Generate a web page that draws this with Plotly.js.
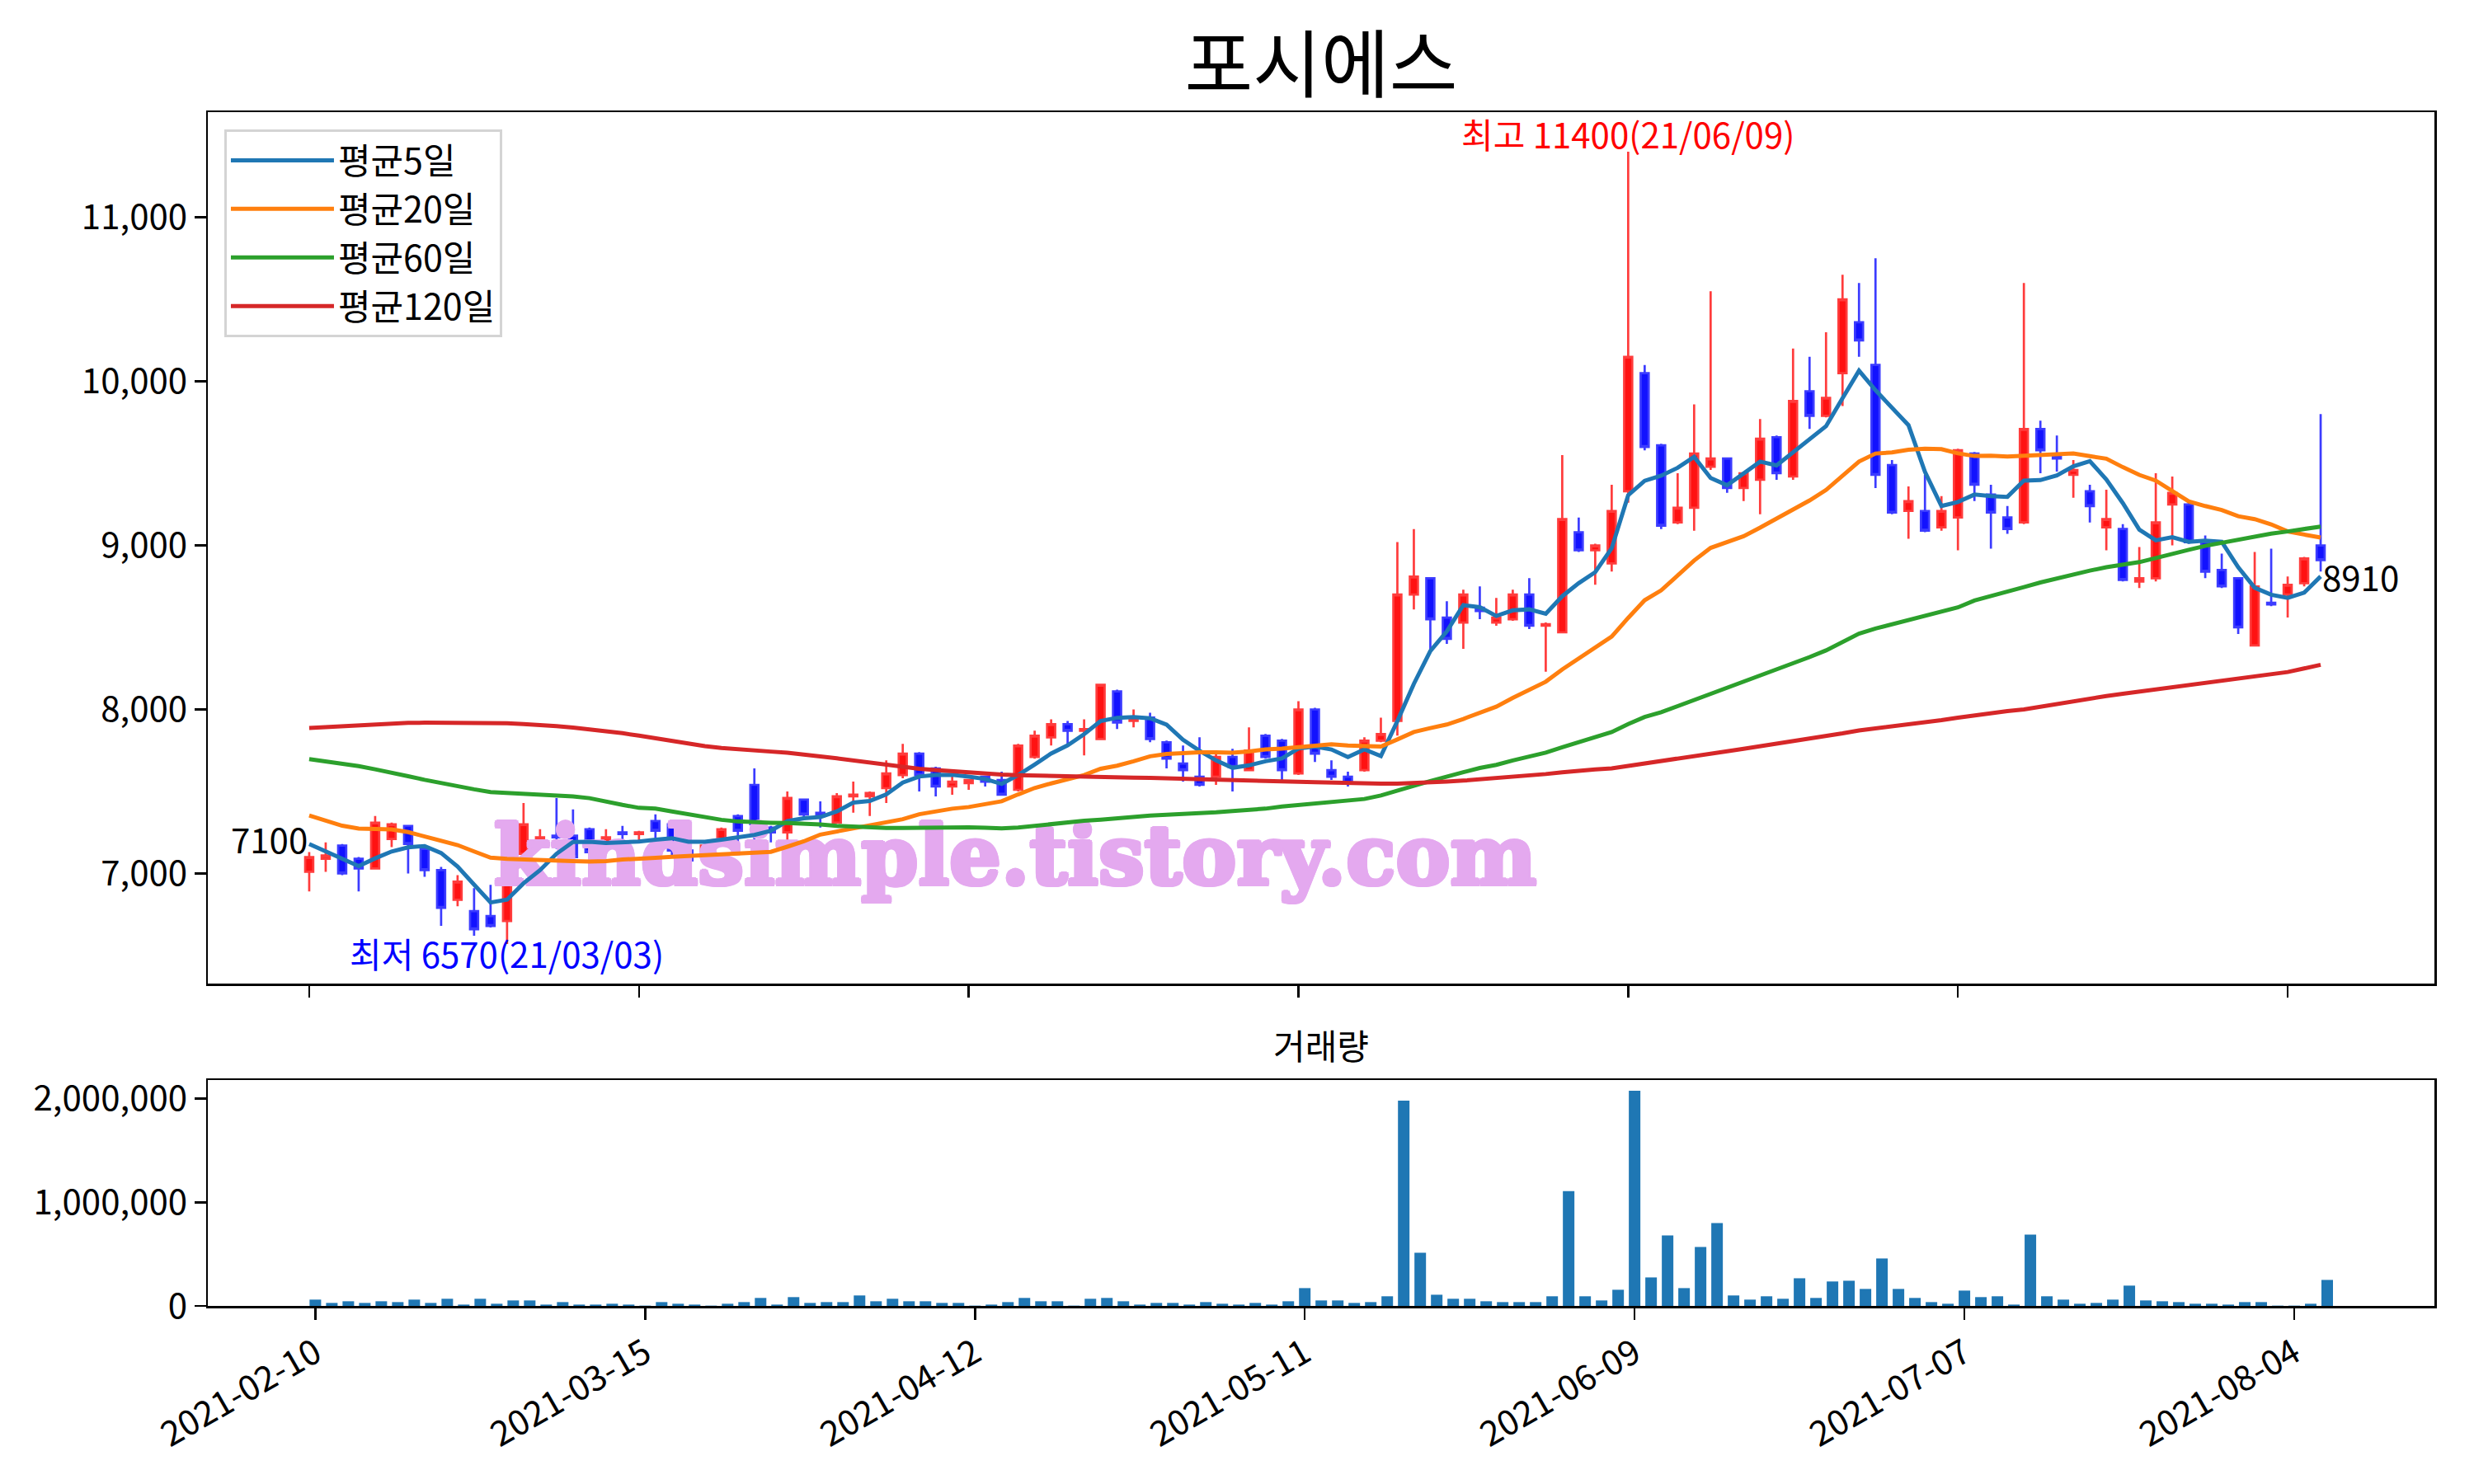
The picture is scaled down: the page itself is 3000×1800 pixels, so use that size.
<!DOCTYPE html>
<html><head><meta charset="utf-8">
<script src="https://cdn.plot.ly/plotly-3.0.1.min.js"></script>
<style>html,body{margin:0;padding:0;background:#fff}#chart{width:3000px;height:1800px}</style>
</head><body><div id="chart"></div>
<script>
const stockName = '포시에스';
const volumeTitle = '거래량';
const watermark = 'kindsimple.tistory.com';
const maNames = ['평균5일', '평균20일', '평균60일', '평균120일'];

const dates = [
'2021-02-10','2021-02-15','2021-02-16','2021-02-17','2021-02-18','2021-02-19','2021-02-22','2021-02-23','2021-02-24','2021-02-25',
'2021-02-26','2021-03-02','2021-03-03','2021-03-04','2021-03-05','2021-03-08','2021-03-09','2021-03-10','2021-03-11','2021-03-12',
'2021-03-15','2021-03-16','2021-03-17','2021-03-18','2021-03-19','2021-03-22','2021-03-23','2021-03-24','2021-03-25','2021-03-26',
'2021-03-29','2021-03-30','2021-03-31','2021-04-01','2021-04-02','2021-04-05','2021-04-06','2021-04-07','2021-04-08','2021-04-09',
'2021-04-12','2021-04-13','2021-04-14','2021-04-15','2021-04-16','2021-04-19','2021-04-20','2021-04-21','2021-04-22','2021-04-23',
'2021-04-26','2021-04-27','2021-04-28','2021-04-29','2021-04-30','2021-05-03','2021-05-04','2021-05-06','2021-05-07','2021-05-10',
'2021-05-11','2021-05-12','2021-05-13','2021-05-14','2021-05-17','2021-05-18','2021-05-20','2021-05-21','2021-05-24','2021-05-25',
'2021-05-26','2021-05-27','2021-05-28','2021-05-31','2021-06-01','2021-06-02','2021-06-03','2021-06-04','2021-06-07','2021-06-08',
'2021-06-09','2021-06-10','2021-06-11','2021-06-14','2021-06-15','2021-06-16','2021-06-17','2021-06-18','2021-06-21','2021-06-22',
'2021-06-23','2021-06-24','2021-06-25','2021-06-28','2021-06-29','2021-06-30','2021-07-01','2021-07-02','2021-07-05','2021-07-06',
'2021-07-07','2021-07-08','2021-07-09','2021-07-12','2021-07-13','2021-07-14','2021-07-15','2021-07-16','2021-07-19','2021-07-20',
'2021-07-21','2021-07-22','2021-07-23','2021-07-26','2021-07-27','2021-07-28','2021-07-29','2021-07-30','2021-08-02','2021-08-03',
'2021-08-04','2021-08-05','2021-08-06'];

const open = [
7010,7090,7170,7090,7030,7210,7290,7150,7020,6840, 6770,6740,6710,7120,7200,7230,7230,7270,7200,7250,
7240,7320,7300,7140,7120,7190,7350,7540,7280,7250, 7450,7370,7310,7470,7470,7520,7600,7730,7640,7530,
7550,7590,7570,7510,7710,7830,7910,7870,7820,8110, 7930,7950,7800,7670,7590,7590,7710,7630,7840,7810,
7610,8000,7630,7590,7630,7810,7930,8700,8800,8560, 8530,8620,8530,8550,8700,8510,8470,9080,8970,8890,
9330,10050,9610,9140,9230,9480,9530,9350,9400,9660, 9420,9940,9790,10050,10360,10100,9490,9210,9210,9110,
9170,9560,9310,9170,9140,9710,9550,9430,9330,9110, 9100,8780,8800,9250,9250,9020,8850,8800,8390,8650,
8700,8770,9000];
const high = [
7130,7190,7180,7100,7350,7310,7290,7150,7040,6990, 6910,6930,7160,7430,7270,7460,7390,7280,7270,7290,
7260,7360,7300,7160,7180,7280,7360,7640,7290,7500, 7450,7440,7490,7560,7500,7690,7790,7740,7650,7600,
7570,7590,7620,7790,7870,7940,7930,7940,8150,8120, 8000,7980,7810,7780,7830,7730,7760,7890,7850,7820,
8050,8010,7690,7620,7830,7950,9020,9100,8800,8660, 8730,8750,8680,8730,8800,8530,9550,9170,9010,9370,
11400,10100,9620,9440,9860,10550,9530,9450,9770,9670, 10200,10150,10300,10650,10600,10750,9520,9360,9430,9300,
9590,9570,9370,9240,10600,9760,9670,9520,9370,9340, 9130,8990,9440,9420,9260,9060,8950,8800,8960,8980,
8810,8930,9800];
const low = [
6890,7010,6990,6890,7030,7160,7000,6980,6680,6800, 6620,6670,6570,7100,7160,7150,7070,6980,7180,7190,
7190,7170,7100,7050,7110,7180,7180,7180,7190,7190, 7330,7280,7310,7370,7350,7430,7580,7500,7470,7480,
7510,7530,7480,7500,7700,7780,7790,7720,7820,7880, 7890,7800,7640,7560,7530,7540,7500,7630,7700,7570,
7600,7680,7570,7530,7620,7800,7840,8610,8360,8400, 8370,8550,8510,8540,8490,8230,8470,8960,8760,8840,
9260,9580,9100,9130,9090,9460,9320,9270,9190,9400, 9400,9710,9780,9850,10150,9350,9190,9040,9080,9090,
8970,9270,8980,9070,9130,9440,9450,9290,9140,8970, 8780,8740,8780,9000,9010,8800,8740,8460,8390,8630,
8560,8750,8840];
const close = [
7100,7110,7000,7030,7310,7300,7180,7020,6790,6950, 6660,6680,7120,7300,7220,7220,7100,7130,7220,7240,
7250,7260,7140,7080,7170,7270,7260,7300,7250,7460, 7360,7350,7470,7480,7490,7610,7730,7600,7530,7560,
7570,7560,7480,7780,7840,7910,7870,7880,8150,7920, 7950,7820,7700,7630,7540,7710,7650,7750,7710,7630,
8000,7730,7590,7550,7810,7850,8700,8810,8550,8430, 8700,8600,8560,8700,8510,8520,9160,8970,9000,9210,
10150,9600,9120,9230,9560,9530,9350,9440,9650,9440, 9880,9790,9900,10500,10250,9430,9200,9270,9090,9210,
9580,9370,9200,9100,9710,9580,9530,9460,9240,9160, 8790,8800,9140,9320,9020,8840,8750,8500,8750,8640,
8760,8920,8910];
const volume = [
61000,29000,45000,29000,45000,37000,61000,29000,69000,13000, 69000,21000,53000,53000,13000,37000,13000,13000,21000,13000,
3000,37000,21000,13000,3000,21000,37000,77000,13000,85000, 29000,37000,37000,101000,45000,69000,45000,45000,29000,29000,
3000,13000,37000,77000,45000,45000,3000,69000,77000,45000, 13000,29000,29000,13000,37000,21000,13000,29000,13000,45000,
172000,53000,53000,29000,37000,93000,1982000,513000,108000,69000, 69000,45000,37000,37000,37000,93000,1109000,93000,53000,156000,
2077000,275000,680000,172000,569000,799000,101000,61000,93000,69000, 267000,77000,236000,243000,164000,458000,164000,77000,37000,21000,
148000,85000,93000,13000,688000,93000,61000,21000,29000,61000, 196000,53000,45000,37000,21000,21000,13000,37000,37000,3000,
3000,21000,251000];

const ma5 = [
7179,7134,7084,7045,7092,7134,7159,7167,7125,7042, 6932,6823,6840,6940,7020,7120,7192,7193,7186,7188,
7195,7206,7215,7193,7193,7206,7218,7235,7260,7319, 7336,7344,7378,7432,7442,7482,7554,7591,7600,7601,
7590,7576,7546,7600,7664,7731,7781,7849,7929,7949, 7954,7946,7907,7815,7748,7689,7644,7659,7684,7701,
7762,7774,7756,7710,7756,7716,7929,8156,8356,8476, 8636,8623,8570,8604,8610,8583,8690,8770,8837,8983,
9306,9394,9425,9473,9540,9411,9367,9438,9511,9488, 9569,9646,9727,9897,10065,9946,9840,9733,9448,9240,
9265,9310,9301,9296,9395,9398,9426,9482,9514,9402, 9258,9096,9031,9050,9022,9029,9022,8867,8742,8699,
8680,8712,8811];
const ma20 = [
7353,7324,7291,7274,7272,7269,7252,7227,7196,7173, 7134,7096,7089,7087,7084,7079,7075,7072,7075,7085,
7093,7095,7101,7106,7109,7112,7117,7121,7132,7163, 7196,7237,7255,7274,7297,7311,7331,7361,7378,7395,
7405,7420,7440,7482,7521,7549,7575,7600,7638,7657, 7684,7714,7728,7734,7738,7739,7736,7744,7756,7761,
7772,7783,7788,7780,7780,7774,7817,7862,7886,7908, 7942,7977,8017,8070,8119,8169,8244,8311,8378,8444,
8558,8666,8726,8813,8908,8985,9023,9056,9108,9162, 9216,9274,9338,9428,9511,9560,9567,9583,9589,9587,
9561,9545,9547,9542,9547,9551,9557,9561,9544,9529, 9477,9430,9395,9333,9268,9240,9216,9178,9160,9128,
9085,9066,9048];
const ma60 = [
7697,7684,7672,7654,7635,7617,7593,7571,7551,7529, 7513,7496,7491,7487,7486,7479,7470,7459,7437,7418,
7400,7395,7378,7361,7344,7327,7317,7311,7309,7307, 7304,7299,7290,7284,7280,7277,7277,7279,7280,7280,
7281,7279,7275,7280,7291,7302,7311,7321,7328,7338, 7346,7353,7358,7361,7366,7373,7381,7386,7395,7408,
7417,7425,7432,7441,7454,7475,7502,7534,7563,7587, 7617,7643,7662,7689,7710,7737,7769,7801,7828,7862,
7911,7954,7983,8020,8057,8095,8130,8167,8205,8244, 8283,8319,8360,8412,8462,8493,8520,8547,8574,8599,
8622,8664,8690,8714,8746,8774,8800,8826,8846,8867, 8882,8898,8923,8951,8973,8997,9016,9035,9053,9072,
9085,9100,9115];
const ma120 = [
7887,7893,7899,7905,7911,7917,7918,7919,7919,7919, 7918,7917,7916,7911,7906,7898,7889,7879,7869,7855,
7840,7823,7807,7790,7776,7765,7756,7748,7743,7736, 7728,7714,7702,7689,7677,7660,7647,7638,7630,7622,
7615,7609,7603,7599,7596,7593,7590,7588,7586,7585, 7584,7583,7581,7578,7576,7573,7571,7568,7565,7562,
7559,7556,7553,7550,7548,7547,7548,7550,7554,7560, 7566,7573,7580,7589,7598,7606,7617,7628,7634,7641,
7655,7670,7685,7698,7712,7728,7745,7760,7775,7790, 7804,7820,7835,7854,7872,7884,7895,7908,7920,7935,
7950,7965,7978,7990,8000,8017,8035,8052,8069,8082, 8095,8108,8121,8135,8149,8163,8177,8190,8202,8215,
8228,8250,8272];

const FONT = 'Noto Sans CJK KR, Noto Sans, sans-serif';
const idx = dates.map((d, i) => i);
const tickIdx = idx.filter(i => i % 20 === 0);
const tickText = tickIdx.map(i => dates[i]);

const hiIdx = high.indexOf(Math.max(...high));
const loIdx = low.indexOf(Math.min(...low));
const shortDate = d => d.slice(2).replace(/-/g, '/');

const xMainRange = [-6.15, 128.9];
const yMainRange = [6328.5, 11641.5];
const xVolRange = [-6.52, 128.5];

const maColors = ['#1f77b4', '#ff7f0e', '#2ca02c', '#d62728'];
const maData = [ma5, ma20, ma60, ma120];

const traces = [];
traces.push({
  type: 'candlestick', x: idx, open: open, high: high, low: low, close: close,
  xaxis: 'x', yaxis: 'y', showlegend: false, whiskerwidth: 0, hoverinfo: 'skip',
  increasing: {line: {color: '#ff3c3c', width: 2.7}, fillcolor: '#ff1212'},
  decreasing: {line: {color: '#3c3cff', width: 2.7}, fillcolor: '#1212ff'}
});
// watermark placed between candles and lines (position given as a fraction of the plot area)
const wmColor = '#e4a9ef';
const wmFx = 0.3626, wmFy = 0.137;
traces.push({
  type: 'scatter', mode: 'text', xaxis: 'x', yaxis: 'y', showlegend: false, hoverinfo: 'skip',
  x: [xMainRange[0] + wmFx * (xMainRange[1] - xMainRange[0])],
  y: [yMainRange[0] + wmFy * (yMainRange[1] - yMainRange[0])],
  text: [watermark], textposition: 'middle center',
  textfont: {family: 'DejaVu Serif', size: 99, color: wmColor, weight: 'bold',
    shadow: ['2.5px 0 0 ', '-2.5px 0 0 ', '0 2.5px 0 ', '0 -2.5px 0 ', '2px 2px 0 ', '-2px -2px 0 ', '2px -2px 0 ', '-2px 2px 0 ']
      .map(s => s + wmColor).join(', ')}
});
maData.forEach((arr, k) => {
  traces.push({
    type: 'scatter', mode: 'lines', x: idx, y: arr, name: maNames[k],
    xaxis: 'x', yaxis: 'y', line: {color: maColors[k], width: 5}, hoverinfo: 'skip'
  });
});
traces.push({
  type: 'bar', x: idx, y: volume, xaxis: 'x2', yaxis: 'y2', showlegend: false,
  marker: {color: '#1f77b4', line: {width: 0}}, width: 0.7, hoverinfo: 'skip'
});

const TICK = 42, TXT = 42;
const axisCommon = {
  showline: true, mirror: true, linecolor: '#000', linewidth: 2.5,
  ticks: 'outside', ticklen: 14, tickwidth: 2.5, tickcolor: '#000',
  showgrid: false, zeroline: false, fixedrange: true,
  tickfont: {family: FONT, size: TICK, color: '#000'}
};

const layout = {
  width: 3000, height: 1800,
  margin: {l: 252, r: 48, t: 136, b: 216},
  paper_bgcolor: '#fff', plot_bgcolor: '#fff',
  font: {family: FONT, size: TXT, color: '#000'},
  title: {text: stockName, font: {family: FONT, size: 90, color: '#000'},
          x: 0.5, xref: 'paper', xanchor: 'center', y: 1 - 79 / 1800, yref: 'container', yanchor: 'middle'},
  showlegend: true,
  legend: {x: 0.0074, y: 0.9855, xanchor: 'left', yanchor: 'top', bgcolor: 'rgba(255,255,255,0.85)',
           bordercolor: '#d4d4d4', borderwidth: 3, font: {family: FONT, size: 43, color: '#000'},
           itemwidth: 125, tracegroupgap: 0},
  xaxis: Object.assign({}, axisCommon, {domain: [0, 1], anchor: 'y', range: xMainRange, tickvals: tickIdx,
          showticklabels: false, rangeslider: {visible: false}}),
  yaxis: Object.assign({}, axisCommon, {domain: [0.27, 1], anchor: 'x', range: yMainRange,
          tickvals: [7000, 8000, 9000, 10000, 11000], tickformat: ',d'}),
  xaxis2: Object.assign({}, axisCommon, {domain: [0, 1], anchor: 'y2', range: xVolRange, tickvals: tickIdx,
          ticktext: tickText, tickangle: -30}),
  yaxis2: Object.assign({}, axisCommon, {domain: [0, 0.1892], anchor: 'x2', range: [0, 2180000],
          tickvals: [0, 1000000, 2000000], tickformat: ',d'}),
  annotations: [
    {xref: 'x', yref: 'y', x: hiIdx, y: high[hiIdx], text: '최고 ' + high[hiIdx] + '(' + shortDate(dates[hiIdx]) + ')',
     showarrow: false, xanchor: 'center', yanchor: 'bottom', yshift: -10, font: {family: FONT, size: TXT, color: '#ff0000'}},
    {xref: 'x', yref: 'y', x: loIdx, y: low[loIdx], text: '최저 ' + low[loIdx] + '(' + shortDate(dates[loIdx]) + ')',
     showarrow: false, xanchor: 'center', yanchor: 'top', yshift: 22, font: {family: FONT, size: TXT, color: '#0000ff'}},
    {xref: 'x', yref: 'y', x: 0, y: close[0], text: String(close[0]),
     showarrow: false, xanchor: 'right', yanchor: 'bottom', yshift: -9, font: {family: FONT, size: TXT, color: '#000'}},
    {xref: 'x', yref: 'y', x: idx[idx.length - 1], y: close[close.length - 1], text: String(close[close.length - 1]),
     showarrow: false, xanchor: 'left', yanchor: 'top', yshift: 13, font: {family: FONT, size: TXT, color: '#000'}},
    {xref: 'paper', yref: 'paper', x: 0.5, y: 0.2196, text: volumeTitle, showarrow: false,
     xanchor: 'center', yanchor: 'middle', font: {family: FONT, size: TXT, color: '#000'}}
  ]
};

Plotly.newPlot('chart', traces, layout, {staticPlot: true, displayModeBar: false});
</script>
</body></html>
